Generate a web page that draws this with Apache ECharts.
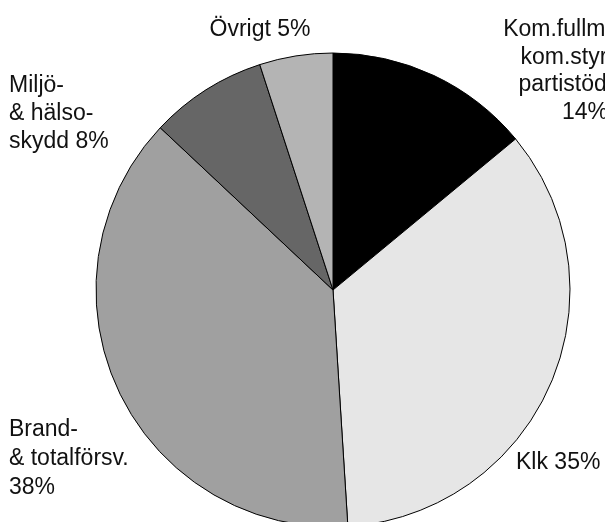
<!DOCTYPE html>
<html>
<head>
<meta charset="utf-8">
<script src="https://cdn.jsdelivr.net/npm/echarts@6/dist/echarts.min.js"></script>
<style>
html,body{margin:0;padding:0;background:#fff;}
#chart{width:605px;height:522px;}
</style>
</head>
<body>
<div id="chart"></div>
<script>
// Data
var categories = [
  "Kom.fullmäktige\nkom.styrelse\npartistöd mm",
  "Klk",
  "Brand-\n& totalförsv.",
  "Miljö-\n& hälso-\nskydd",
  "Övrigt"
];
var values = [14, 35, 38, 8, 5];
var separators = ["\n", " ", "\n", " ", " "];

// Styles / layout (not data)
var colors = ["#000000", "#e6e6e6", "#a0a0a0", "#666666", "#b4b4b4"];
var labelPos = [
  {x: 585, y: 16, align: "center", lh: 27.5},
  {x: 516, y: 449, align: "left", lh: 28},
  {x: 9, y: 415, align: "left", lh: 29},
  {x: 9, y: 72, align: "left", lh: 28},
  {x: 260, y: 16, align: "center", lh: 28}
];

var chart = echarts.init(document.getElementById("chart"), null, {renderer: "canvas"});
var dataItems = categories.map(function (c, i) {
  return {name: c, value: values[i], itemStyle: {color: colors[i]}, label: {lineHeight: labelPos[i].lh}};
});

chart.setOption({
  animation: false,
  backgroundColor: "#ffffff",
  series: [{
    type: "pie",
    center: [333, 290],
    radius: 237,
    startAngle: 90,
    clockwise: true,
    data: dataItems,
    itemStyle: {borderColor: "#000", borderWidth: 1},
    label: {
      show: true,
      position: "outside",
      overflow: "none",
      fontFamily: "Liberation Sans, Arial, sans-serif",
      fontSize: 23,
      lineHeight: 28,
      color: "#111",
      formatter: function (p) {
        return p.name + separators[p.dataIndex] + p.value + "%";
      }
    },
    labelLine: {show: false},
    labelLayout: function (params) {
      var lp = labelPos[params.dataIndex];
      return {x: lp.x, y: lp.y, align: lp.align, verticalAlign: "top", hideOverlap: false, moveOverlap: null};
    },
    emphasis: {disabled: true}
  }]
});
</script>
</body>
</html>
